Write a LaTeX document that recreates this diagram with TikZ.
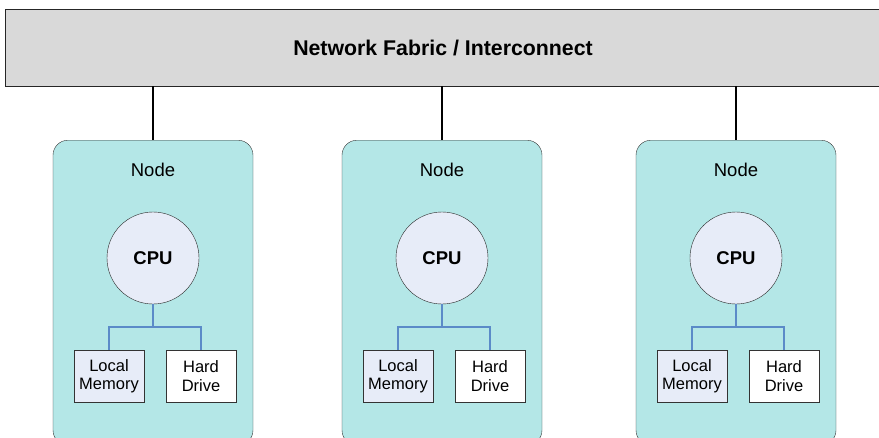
\documentclass[tikz,border=0pt]{standalone}
\usepackage{fontspec}
\setmainfont{Liberation Sans}
\usetikzlibrary{positioning,calc}
\definecolor{fabricgray}{HTML}{D9D9D9}
\definecolor{nodecyan}{HTML}{B4E7E7}
\definecolor{cpulilac}{HTML}{E7ECF8}
\definecolor{busblue}{HTML}{5B8BC8}
\begin{document}
\begin{tikzpicture}[x=1pt,y=-1pt,
	fabric/.style = {rectangle,draw=black!85,fill=fabricgray,minimum width=876pt,minimum height=77pt,
		font=\fontsize{21.3}{25}\selectfont\bfseries},
	cluster node/.style = {rectangle,rounded corners=15pt,draw=black!80,fill=nodecyan,
		minimum width=200pt,minimum height=305pt,anchor=north},
	cpu node/.style = {circle,draw=black!85,fill=cpulilac,minimum size=92pt,inner sep=0pt,
		font=\fontsize{18.5}{22}\selectfont\bfseries},
	part node/.style = {rectangle,draw=black!80,minimum width=70pt,minimum height=52pt,inner sep=0pt,
		align=center,font=\fontsize{16.5}{18.5}\selectfont},
	link/.style = {draw=black,line width=2pt},
	bus/.style = {draw=busblue,line width=1.1pt}]
	
	\clip (0,0) rectangle (879,437);
	
	\node[fabric] (fabric) at (443,47.5) {Network Fabric / Interconnect};
	
	\foreach \i/\x in {1/153,2/442,3/736}{
		\node[cluster node] (n\i) at (\x,140) {};
		\node[font=\fontsize{18.5}{22}\selectfont] (lbl\i) at (\x,170) {Node};
		\node[cpu node] (cpu\i) at (\x,258) {CPU};
		\node[part node,fill=cpulilac] (mem\i) at (\x-44,376) {Local\\Memory};
		\node[part node,fill=white] (hd\i) at (\x+48,376) {Hard\\Drive};
		\coordinate (bus\i) at (\x,327);
		
		\path[link] (fabric.south -| n\i.north) -- (n\i.north);
		\path[bus] (cpu\i.south) -- (bus\i) -| (mem\i.north);
		\path[bus] (bus\i) -| (hd\i.north);
	}
\end{tikzpicture}
\end{document}
